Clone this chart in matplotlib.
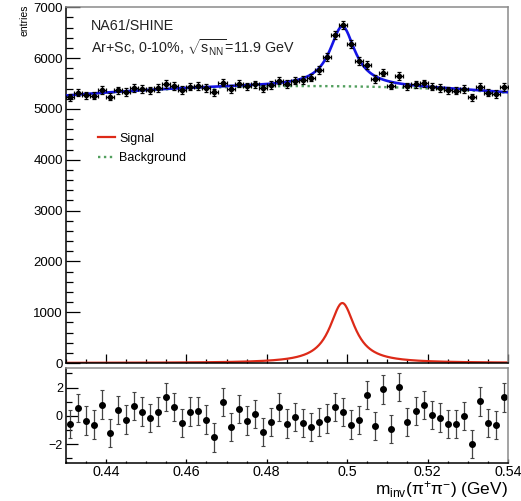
import numpy as np
import matplotlib
matplotlib.use("Agg")
import matplotlib.pyplot as plt
from matplotlib.ticker import MultipleLocator, FuncFormatter
from matplotlib.lines import Line2D

plt.rcParams['font.family'] = ['Liberation Sans', 'DejaVu Sans']
plt.rcParams['mathtext.fontset'] = 'custom'
plt.rcParams['mathtext.rm'] = 'Liberation Sans'
plt.rcParams['mathtext.it'] = 'Liberation Sans:italic'
plt.rcParams['mathtext.bf'] = 'Liberation Sans:bold'

# invariant mass bins (GeV), 2 MeV wide
mass = np.round(np.arange(0.431, 0.5395, 0.002), 3)
bin_half = 0.001

counts = [5228, 5323, 5270, 5263, 5376, 5241, 5367, 5330, 5409, 5390,
          5365, 5408, 5492, 5448, 5374, 5440, 5449, 5413, 5327, 5518,
          5394, 5498, 5443, 5485, 5403, 5467, 5557, 5492, 5556, 5567,
          5618, 5770, 6024, 6461, 6645, 6279, 5949, 5872, 5588, 5715,
          5461, 5654, 5446, 5485, 5501, 5437, 5412, 5366, 5358, 5388,
          5231, 5441, 5320, 5297, 5429]

pulls = [-0.58, 0.56, -0.33, -0.61, 0.80, -1.19, 0.40, -0.26, 0.70, 0.30,
         -0.16, 0.30, 1.33, 0.61, -0.49, 0.30, 0.33, -0.26, -1.52, 0.98,
         -0.80, 0.51, -0.33, 0.12, -1.12, -0.42, 0.61, -0.54, -0.07, -0.49,
         -0.77, -0.44, -0.19, 0.63, 0.28, -0.61, -0.30, 1.47, -0.73, 1.87,
         -0.94, 2.06, -0.44, 0.33, 0.75, 0.05, -0.12, -0.58, -0.56, 0.00,
         -1.99, 1.03, -0.49, -0.65, 1.31]

# fit result: Lorentzian signal on a quadratic background
sig_amp = 1180.0
sig_mass = 0.4988
sig_hwhm = 0.0038
bkg_top = 5450.0
bkg_x0 = 0.49
bkg_curv = 52800.0


def signal(x):
    return sig_amp / (1.0 + ((x - sig_mass) / sig_hwhm) ** 2)


def background(x):
    return bkg_top - bkg_curv * (x - bkg_x0) ** 2


counts = np.array(counts, dtype=float)
pulls = np.array(pulls)
xf = np.linspace(0.43, 0.54, 600)

W, H = 521, 501
fig = plt.figure(figsize=(W / 100, H / 100), dpi=100)
ax = fig.add_axes([65.7 / W, 1 - 363 / H, 442.3 / W, 355.7 / H])
ax2 = fig.add_axes([65.7 / W, 1 - 462.7 / H, 442.3 / W, 94.4 / H])


def style_frame(a):
    for side in ('left', 'bottom'):
        a.spines[side].set_color('black')
        a.spines[side].set_linewidth(1.1)
    for side in ('top', 'right'):
        a.spines[side].set_color('#8a8a8a')
        a.spines[side].set_linewidth(1.1)
    a.tick_params(which='both', direction='in', top=False, right=False,
                  width=0.9, color='black')


# upper pad: data, total fit, components
ax.plot(xf, signal(xf), color='#dd2a18', lw=1.6, label='Signal', zorder=2)
ax.plot(xf, background(xf), color='#529f5e', lw=1.7, ls=(0, (1, 1.5)),
        label='Background', zorder=2)
ax.plot(xf, signal(xf) + background(xf), color='#1414e6', lw=1.9, zorder=3)
ax.errorbar(mass, counts, xerr=bin_half, yerr=np.sqrt(counts), fmt='o',
            ms=3.0, color='black', ecolor='black', elinewidth=0.9,
            capsize=1.2, capthick=0.9, zorder=4)

ax.set_xlim(0.43, 0.54)
ax.set_ylim(0, 7000)
ax.yaxis.set_major_locator(MultipleLocator(1000))
ax.yaxis.set_minor_locator(MultipleLocator(200))
ax.xaxis.set_major_locator(MultipleLocator(0.02))
ax.xaxis.set_minor_locator(MultipleLocator(0.005))
style_frame(ax)
ax.tick_params(axis='y', which='major', length=10, labelsize=9.5, pad=2)
ax.tick_params(axis='y', which='minor', length=5)
ax.tick_params(axis='x', which='major', length=6.5, labelbottom=False)
ax.tick_params(axis='x', which='minor', length=3)

ax.text(0.057, 0.947, 'NA61/SHINE', transform=ax.transAxes, fontsize=10.3,
        va='center', ha='left', color='#222222')
ax.text(0.057, 0.887, r'Ar+Sc, 0-10%, $\sqrt{\mathrm{s}_{\mathrm{NN}}}$=11.9 GeV',
        transform=ax.transAxes, fontsize=10.3, va='center', ha='left',
        color='#222222')

handles = [Line2D([], [], color='#dd2a18', lw=1.6),
           Line2D([], [], color='#529f5e', lw=1.7, ls=(0, (1, 1.5)))]
ax.legend(handles, ['Signal', 'Background'], loc='upper left',
          bbox_to_anchor=(0.072, 0.648), frameon=False, fontsize=9,
          handlelength=1.4, handletextpad=0.35, labelspacing=0.62,
          borderpad=0, borderaxespad=0)

fig.text(24 / W, 1 - 5 / H, 'entries', rotation=90, ha='center', va='top',
         fontsize=7.5)

# lower pad: pulls
ax2.errorbar(mass, pulls, yerr=np.ones_like(pulls), fmt='o', ms=4.0,
             color='black', ecolor='#444444', elinewidth=0.9, capsize=1.3,
             capthick=0.8)
ax2.set_xlim(0.43, 0.54)
ax2.set_ylim(-3.3, 3.36)
ax2.yaxis.set_major_locator(MultipleLocator(2))
ax2.yaxis.set_minor_locator(MultipleLocator(1))
ax2.xaxis.set_major_locator(MultipleLocator(0.02))
ax2.xaxis.set_minor_locator(MultipleLocator(0.005))
ax2.xaxis.set_major_formatter(FuncFormatter(lambda v, p: '%g' % round(v, 2)))
style_frame(ax2)
ax2.tick_params(axis='y', which='major', length=8.5, labelsize=9, pad=2)
ax2.tick_params(axis='y', which='minor', length=4.3)
ax2.tick_params(axis='x', which='major', length=3.2, labelsize=10.3, pad=2)
ax2.tick_params(axis='x', which='minor', length=1.6)

fig.text(508 / W, 1 - 494 / H, r'm$_{\mathrm{inv}}$(π$^{+}$π$^{-}$) (GeV)',
         ha='right', va='baseline', fontsize=12.4)

fig.savefig('out.png', dpi=100)
